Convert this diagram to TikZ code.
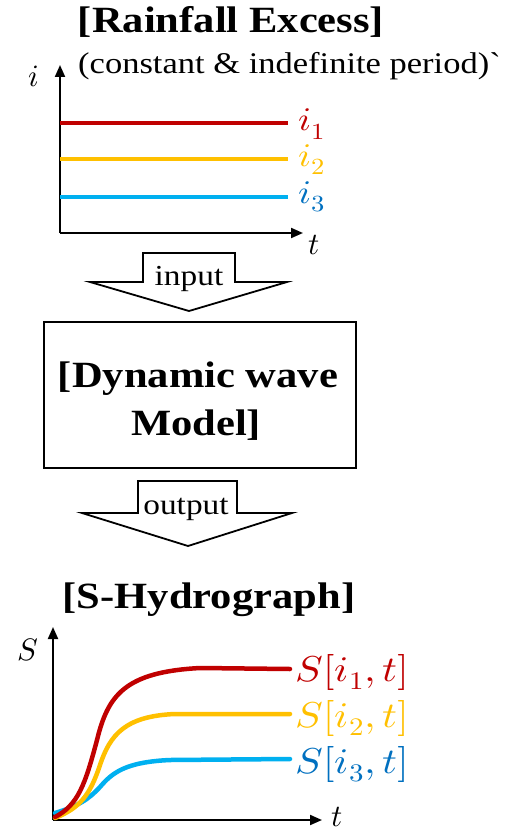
\documentclass[tikz,border=0pt]{standalone}
\usepackage{graphicx}
\usepackage{fontspec}
\usepackage{unicode-math}
\setmainfont{Liberation Serif}
\setmathfont{Latin Modern Math}
\usetikzlibrary{arrows.meta}
\definecolor{cred}{HTML}{C00000}
\definecolor{cyel}{HTML}{FFC000}
\definecolor{cblu}{HTML}{00B0F0}
\definecolor{cbll}{HTML}{0070C0}
\newcommand\hs[1]{\scalebox{1.15}[1]{#1}}
\tikzset{
  axisline/.style={line width=2pt, -{Triangle[length=12pt,width=10pt]}},
  level/.style={line width=4pt},
  curve/.style={line width=4.5pt, line cap=round},
  ttl/.style={font=\fontsize{37}{44}\selectfont\bfseries, inner sep=0pt},
  plain/.style={font=\fontsize{29}{34}\selectfont, inner sep=0pt},
  mlab/.style={font=\fontsize{33}{38}\selectfont, inner sep=0pt},
  slab/.style={font=\fontsize{36}{40}\selectfont, inner sep=0pt},
  axlab/.style={font=\fontsize{31}{36}\selectfont, inner sep=0pt},
  blockarrow/.style={line width=1.8pt, fill=white, line join=miter},
  modelbox/.style={draw, line width=2.5pt, minimum width=312pt, minimum height=146pt, inner sep=0pt}
}
\begin{document}
\begin{tikzpicture}[x=1pt,y=-1pt]
\useasboundingbox[fill=white] (0,0) rectangle (513,832);

% ---------- top: rainfall excess ----------
\node[ttl, anchor=base] (title1) at (231,33) {\hs{[Rainfall Excess]}};
\node[font=\fontsize{30}{34}\selectfont, inner sep=0pt, anchor=base west] (sub) at (78,74) {\hs{(constant \& indefinite period)\textasciigrave}};

\coordinate (o1) at (60,233);
\coordinate (ytop1) at (60,65);
\coordinate (xend1) at (303,233);
\draw[axisline] (o1) -- (ytop1);
\draw[axisline] (o1) -- (xend1);
\node[axlab, anchor=base] (ilab) at (34,87) {$i$};
\node[axlab, anchor=base] (tlab1) at (314,254) {$t$};

\coordinate (a1) at (60,123); \coordinate (b1) at (288,123);
\coordinate (a2) at (60,159); \coordinate (b2) at (288,159);
\coordinate (a3) at (60,197); \coordinate (b3) at (288,197);
\draw[level, cred] (a1) -- (b1);
\draw[level, cyel] (a2) -- (b2);
\draw[level, cblu] (a3) -- (b3);
\node[mlab, text=cred, anchor=base west] (i1) at (298,131) {\hs{$i_1$}};
\node[mlab, text=cyel, anchor=base west] (i2) at (298,166) {\hs{$i_2$}};
\node[mlab, text=cbll, anchor=base west] (i3) at (298,203) {\hs{$i_3$}};

% ---------- input arrow ----------
\draw[blockarrow] (143,253) -- (235,253) -- (235,282) -- (287,282) -- (189,311) -- (90,282) -- (143,282) -- cycle;
\node[plain, anchor=base] (input) at (189,285) {\hs{input}};

% ---------- model box ----------
\node[modelbox] (model) at (200,395) {};
\node[ttl, anchor=base] (m1) at (198,387) {\hs{[Dynamic wave}};
\node[ttl, anchor=base] (m2) at (196,435) {\hs{Model]}};

% ---------- output arrow ----------
\draw[blockarrow] (138,481) -- (237,481) -- (237,513) -- (292,513) -- (188,546) -- (82,513) -- (138,513) -- cycle;
\node[plain, anchor=base] (output) at (186,514) {\hs{output}};

% ---------- bottom: S-hydrograph ----------
\node[ttl, anchor=base] (title2) at (209,608) {\hs{[S-Hydrograph]}};
\coordinate (o2) at (53,820);
\coordinate (ytop2) at (53,627);
\coordinate (xend2) at (322,820);
\draw[axisline] (o2) -- (ytop2);
\draw[axisline] (o2) -- (xend2);
\node[axlab, anchor=base] (slab0) at (28,660) {$S$};
\node[axlab, anchor=base] (tlab2) at (337,826) {$t$};

\draw[curve, cblu] (55,813) .. controls (78,806) and (88,800) .. (100,787)
   .. controls (112,773) and (125,762) .. (170,760) -- (290,759);
\draw[curve, cyel] (55,818) .. controls (80,808) and (90,795) .. (100,765)
   .. controls (110,735) and (125,716) .. (175,714) -- (290,714);
\draw[curve, cred] (55,817) .. controls (78,805) and (85,785) .. (97,740)
   .. controls (108,695) and (125,672) .. (200,668) -- (290,669);

\node[slab, text=cred, anchor=base west] (s1) at (295,681) {\hs{$S[i_1,t]$}};
\node[slab, text=cyel, anchor=base west] (s2) at (295,727) {\hs{$S[i_2,t]$}};
\node[slab, text=cbll, anchor=base west] (s3) at (295,773) {\hs{$S[i_3,t]$}};
\end{tikzpicture}
\end{document}
